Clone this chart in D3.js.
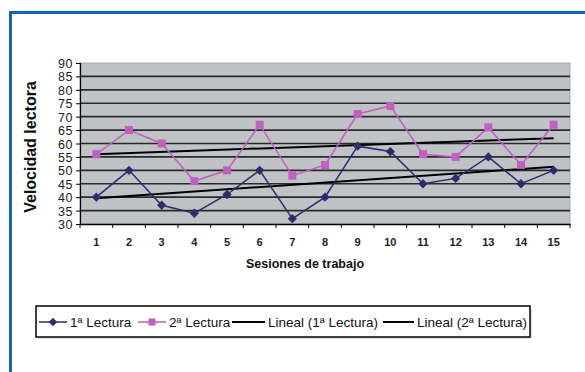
<!DOCTYPE html>
<html>
<head>
<meta charset="utf-8">
<script src="https://cdn.jsdelivr.net/npm/d3@7"></script>
<style>
html,body{margin:0;padding:0;background:#fff;}
svg{display:block;}
text{font-family:Arial,"Liberation Sans",sans-serif;}
</style>
</head>
<body>
<svg id="chart" width="585" height="372"></svg>
<script>
const sessions = [1,2,3,4,5,6,7,8,9,10,11,12,13,14,15];
const lectura1 = [40,50,37,34,41,50,32,40,59,57,45,47,55,45,50];
const lectura2 = [56,65,60,46,50,67,48,52,71,74,56,55,66,52,67];
const yTicks = [30,35,40,45,50,55,60,65,70,75,80,85,90];
const seriesNames = ["1ª Lectura","2ª Lectura","Lineal (1ª Lectura)","Lineal (2ª Lectura)"];

const svg = d3.select("#chart");
const W = 585, H = 372;

// frame
svg.append("path").attr("d", "M10.5,"+(H+5)+" L10.5,12.5 L"+(W+5)+",12.5")
  .attr("fill","none").attr("stroke","#1b62b3").attr("stroke-width",3);

const pl = 80, pr = 570, pt = 63, pb = 224;
const x = d3.scaleBand().domain(sessions).range([pl, pr]);
const y = d3.scaleLinear().domain([30, 90]).range([pb, pt]);

svg.append("rect").attr("x", pl).attr("y", pt).attr("width", pr-pl).attr("height", pb-pt)
  .attr("fill","#c0c3c6").attr("stroke","#a8a8a8").attr("stroke-width",1);

// gridlines
svg.append("g").selectAll("line").data(yTicks.filter(d=>d>30 && d<90)).join("line")
  .attr("x1", pl).attr("x2", pr).attr("y1", d=>y(d)).attr("y2", d=>y(d))
  .attr("stroke","#2a2a2a").attr("stroke-width",1.6);

// y axis
const yAxis = svg.append("g").attr("transform","translate("+pl+",0)")
  .call(d3.axisLeft(y).tickValues(yTicks).tickSize(4).tickPadding(3));
yAxis.select(".domain").attr("stroke","#000").attr("stroke-width",1.2);
yAxis.selectAll(".tick line").attr("stroke","#000");
yAxis.selectAll("text").attr("font-size",12.5).attr("fill","#222")
  .style("font-family","Arial,'Liberation Sans',sans-serif").style("letter-spacing","0.6px").attr("dy","0.36em");

// x axis
const xAxis = svg.append("g").attr("transform","translate(0,"+pb+")")
  .call(d3.axisBottom(x).tickSize(0).tickPadding(14));
xAxis.select(".domain").attr("stroke","#000").attr("stroke-width",1.5);
xAxis.selectAll("text").attr("font-size",11).attr("font-weight","bold").attr("fill","#222")
  .style("font-family","Arial,'Liberation Sans',sans-serif");
// boundary ticks
const bounds = sessions.map(s => x(s)).concat([pr]);
svg.append("g").selectAll("line").data(bounds).join("line")
  .attr("x1", d=>d).attr("x2", d=>d).attr("y1", pb).attr("y2", pb+4)
  .attr("stroke","#000").attr("stroke-width",1);

const cx = d => x(d) + x.bandwidth()/2;

// trend lines (least squares)
function fit(vals){
  const mx = d3.mean(sessions), my = d3.mean(vals);
  let sxy = 0, sxx = 0;
  sessions.forEach((s,i)=>{ sxy += (s-mx)*(vals[i]-my); sxx += (s-mx)*(s-mx); });
  const b = sxy/sxx, a = my - b*mx;
  return s => a + b*s;
}
[lectura1, lectura2].forEach(vals=>{
  const f = fit(vals);
  const s0 = sessions[0], s1 = sessions[sessions.length-1];
  svg.append("line").attr("x1", cx(s0)).attr("y1", y(f(s0)))
    .attr("x2", cx(s1)).attr("y2", y(f(s1)))
    .attr("stroke","#000").attr("stroke-width",2);
});

const line = d3.line().x((d,i)=>cx(sessions[i])).y(d=>y(d));
const c1 = "#2d2d6b", c2 = "#c060c0";
svg.append("path").datum(lectura1).attr("d", line).attr("fill","none").attr("stroke", c1).attr("stroke-width",1.5);
svg.append("path").datum(lectura2).attr("d", line).attr("fill","none").attr("stroke", c2).attr("stroke-width",1.5);

svg.append("g").selectAll("path").data(lectura1).join("path")
  .attr("d", d3.symbol().type(d3.symbolDiamond2).size(55))
  .attr("transform",(d,i)=>"translate("+cx(sessions[i])+","+y(d)+")")
  .attr("fill", c1);
svg.append("g").selectAll("rect").data(lectura2).join("rect")
  .attr("x",(d,i)=>cx(sessions[i])-4).attr("y", d=>y(d)-4).attr("width",8).attr("height",8)
  .attr("fill", c2);

// titles
svg.append("text").attr("transform","translate(36,147) rotate(-90)")
  .attr("text-anchor","middle").attr("font-size",16).attr("font-weight","bold").attr("fill","#111")
  .text("Velocidad lectora");
svg.append("text").attr("x", 305).attr("y", 268).attr("text-anchor","middle")
  .attr("font-size",12.5).attr("font-weight","bold").attr("fill","#111").text("Sesiones de trabajo");

// legend
svg.append("rect").attr("x",38).attr("y",308).attr("width",494).attr("height",31).attr("fill","#e4e4e4");
svg.append("rect").attr("x",36).attr("y",306).attr("width",494).attr("height",31)
  .attr("fill","#fff").attr("stroke","#000").attr("stroke-width",1.5);
const ly = 322;
const legendItems = [
  {name: seriesNames[0], x0: 39, x1: 67, tx: 70, color: c1, mark: "diamond"},
  {name: seriesNames[1], x0: 138, x1: 166, tx: 169, color: c2, mark: "square"},
  {name: seriesNames[2], x0: 232, x1: 265, tx: 268, color: "#000", mark: null},
  {name: seriesNames[3], x0: 383, x1: 414, tx: 417, color: "#000", mark: null}
];
const lg = svg.append("g");
legendItems.forEach(it=>{
  lg.append("line").attr("x1", it.x0).attr("x2", it.x1).attr("y1", ly).attr("y2", ly)
    .attr("stroke", it.color).attr("stroke-width", it.mark ? 1.5 : 2);
  if (it.mark === "diamond") {
    lg.append("path").attr("d", d3.symbol().type(d3.symbolDiamond2).size(45))
      .attr("transform","translate("+((it.x0+it.x1)/2)+","+ly+")").attr("fill", it.color);
  } else if (it.mark === "square") {
    lg.append("rect").attr("x",(it.x0+it.x1)/2-3.5).attr("y",ly-3.5).attr("width",7).attr("height",7).attr("fill", it.color);
  }
  lg.append("text").attr("x", it.tx).attr("y", ly).attr("dy","0.35em")
    .attr("font-size",13.5).attr("fill","#111").text(it.name);
});
</script>
</body>
</html>
